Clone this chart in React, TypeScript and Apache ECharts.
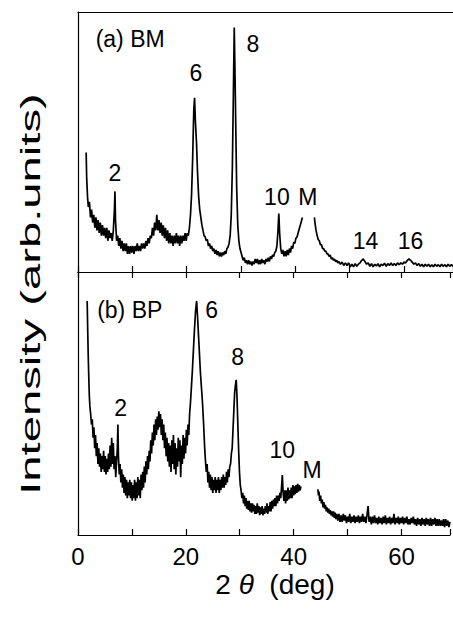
import React, { useEffect, useRef } from "react";
import * as echarts from "echarts";

// (a) BM pattern: [2θ (deg), intensity (arb.)]; '-' marks the blanked M region
const bmPattern: (number | string)[][] = [
  [1.5,46],[1.6,36],[1.75,29],[1.9,25],[2.1,27],[2.3,21],[2.5,24],[2.7,19],[2.9,22],[3.1,17],[3.3,21],[3.5,16],[3.7,20],[3.9,15],[4.1,19],[4.3,14],[4.5,18],[4.7,14],[4.9,17],[5.1,13],[5.3,17],[5.5,12],[5.7,16],[5.9,13],[6.1,15],[6.3,12],[6.5,16],[6.7,24],[6.8,31],[6.9,20],[7.1,12],[7.3,14],[7.5,10],[7.7,13],[7.9,9],[8.1,12],[8.3,8],[8.5,11],[8.7,8],[8.9,11],[9.1,7],[9.3,10],[9.5,7],[9.7,10],[9.9,7.5],[10.1,10],[10.3,7],[10.5,10],[10.7,8],[10.9,11],[11.1,8],[11.3,10],[11.5,8],[11.7,11],[11.9,9],[12.1,11],[12.3,9],[12.5,12],[12.7,10],[12.9,13],[13.1,11],[13.3,14],[13.5,13],[13.7,17],[13.9,14],[14.1,19],[14.3,16],[14.5,22],[14.7,16],[14.9,20],[15.1,15],[15.3,19],[15.5,14],[15.7,18],[15.9,13],[16.1,17],[16.3,12],[16.5,16],[16.7,11],[16.9,15],[17.1,11],[17.3,14],[17.5,10],[17.7,14],[17.9,11],[18.1,15],[18.3,11],[18.5,14],[18.7,10],[18.9,14],[19.1,11],[19.3,14],[19.5,12],[19.7,15],[19.9,12],[20.1,15],[20.3,14],[20.5,17],[20.7,22],[20.9,30],[21.1,44],[21.3,62],[21.45,67],[21.6,58],[21.8,50],[22.0,38],[22.2,29],[22.4,24],[22.6,21],[22.8,18],[23.0,16],[23.2,14],[23.4,13.5],[23.6,12],[23.8,12.5],[24.0,10],[24.2,11],[24.4,9],[24.6,10],[24.8,8],[25.0,9],[25.2,7],[25.4,8.5],[25.6,6.5],[25.8,8],[26.0,6],[26.2,7.5],[26.4,6],[26.6,7.5],[26.8,6.5],[27.0,8],[27.2,7],[27.4,9],[27.6,9.5],[27.8,11],[28.0,14],[28.2,22],[28.4,40],[28.6,70],[28.75,94],[28.9,75],[29.05,53],[29.2,32],[29.4,18],[29.6,12],[29.8,9],[30.0,7.5],[30.2,6],[30.4,4.5],[30.6,5.5],[30.8,3.5],[31.0,4.5],[31.2,3],[31.4,4.5],[31.6,3],[31.8,4],[32.0,2.5],[32.2,4],[32.4,3],[32.6,5],[32.8,3.5],[33.0,5],[33.2,3],[33.4,4.5],[33.6,3],[33.8,5],[34.0,3.5],[34.2,4.5],[34.4,3],[34.6,5],[34.8,4],[35.0,5.5],[35.2,4],[35.4,6],[35.6,5],[35.8,6.5],[36.0,6],[36.2,7.5],[36.4,8],[36.6,10],[36.8,16],[36.95,22.5],[37.1,15],[37.3,9],[37.5,7],[37.7,8.5],[37.9,6],[38.1,8],[38.3,6],[38.5,8.5],[38.7,6.5],[38.9,9],[39.1,7.5],[39.3,10],[39.5,9],[39.7,11.5],[39.9,11],[40.1,13],[40.3,13.5],[40.5,15],[40.7,16.5],[40.9,18],[41.1,19.5],[41.3,21],[41.4,"-"],[43.5,21],[43.6,19],[43.8,16],[44.0,14],[44.2,12.5],[44.4,12],[44.6,10.5],[44.8,10.5],[45.0,9],[45.2,9],[45.4,8],[45.6,8],[45.8,7],[46.0,7],[46.2,6],[46.4,6.5],[46.6,5],[46.8,5.5],[47.0,4.5],[47.2,5],[47.4,4],[47.6,4.5],[47.8,3.5],[48.0,4],[48.3,3],[48.6,3.8],[48.9,2.5],[49.2,3.5],[49.5,2.5],[49.8,3.5],[50.1,2],[50.4,3],[50.7,2],[51.0,3.2],[51.3,2.2],[51.6,3],[51.9,3.5],[52.2,4.5],[52.5,5],[52.8,4],[53.1,3],[53.4,3.5],[53.7,2.2],[54.0,3.2],[54.3,2],[54.6,3],[54.9,2.3],[55.2,3.2],[55.5,2],[55.8,3],[56.1,2.5],[56.4,3.4],[56.7,2.2],[57.0,3.2],[57.3,2.5],[57.6,3.5],[57.9,2.5],[58.2,3.3],[58.5,2.5],[58.8,3.5],[59.1,2.8],[59.4,3.5],[59.7,3],[60.0,3.8],[60.3,3.5],[60.6,4.5],[60.9,5],[61.2,4.5],[61.5,3.8],[61.8,3],[62.1,3.5],[62.4,2.5],[62.7,3.2],[63.0,2.2],[63.3,3],[63.6,2],[63.9,3],[64.2,2.2],[64.5,3],[64.8,2],[65.1,2.8],[65.4,2],[65.7,3],[66.0,2.2],[66.3,2.8],[66.6,2],[66.9,3],[67.2,2.2],[67.5,2.8],[67.8,2],[68.1,3],[68.4,2.2],[68.7,2.8],[69.0,2.2]
];

// (b) BP pattern
const bpPattern: (number | string)[][] = [
  [1.7,89],[1.8,78],[1.9,68],[2.0,60],[2.1,53],[2.2,49],[2.35,46],[2.5,42],[2.65,44],[2.8,37],[2.95,41],[3.1,33],[3.25,38],[3.4,30],[3.55,35],[3.7,27],[3.85,33],[4.0,26],[4.15,31],[4.3,24],[4.45,30],[4.6,25],[4.75,32],[4.9,24],[5.05,30],[5.2,23],[5.35,29],[5.5,24],[5.65,31],[5.8,25],[5.95,34],[6.1,26],[6.25,37],[6.4,27],[6.55,35],[6.7,25],[6.85,30],[7.0,22],[7.15,28],[7.3,33],[7.4,42],[7.5,30],[7.65,23],[7.8,27],[7.95,20],[8.1,25],[8.25,18],[8.4,23],[8.55,16],[8.7,22],[8.85,15],[9.0,21],[9.15,14],[9.3,20],[9.45,15],[9.6,21],[9.75,14],[9.9,20],[10.05,13],[10.2,19],[10.35,14],[10.5,21],[10.65,13],[10.8,20],[10.95,14],[11.1,22],[11.25,15],[11.4,21],[11.55,14],[11.7,23],[11.85,17],[12.0,24],[12.15,18],[12.3,26],[12.45,20],[12.6,28],[12.75,23],[12.9,30],[13.05,25],[13.2,32],[13.35,28],[13.5,36],[13.65,31],[13.8,39],[13.95,34],[14.1,42],[14.25,36],[14.4,44],[14.55,38],[14.7,45],[14.85,40],[15.0,47],[15.15,41],[15.3,46],[15.45,38],[15.6,44],[15.75,36],[15.9,42],[16.05,33],[16.2,39],[16.35,30],[16.5,37],[16.65,28],[16.8,35],[16.95,26],[17.1,34],[17.25,24],[17.4,36],[17.55,27],[17.7,38],[17.85,25],[18.0,35],[18.15,23],[18.3,33],[18.45,26],[18.6,37],[18.75,28],[18.9,36],[19.05,22],[19.2,34],[19.35,27],[19.5,38],[19.65,29],[19.8,37],[19.95,31],[20.1,40],[20.25,34],[20.4,42],[20.55,38],[20.7,46],[20.85,50],[21.0,55],[21.2,62],[21.4,70],[21.6,78],[21.8,85],[22.0,89],[22.15,84],[22.3,78],[22.5,70],[22.7,62],[22.9,56],[23.1,50],[23.3,42],[23.5,33],[23.65,28],[23.8,24],[23.95,27],[24.1,20],[24.25,24],[24.4,18],[24.55,23],[24.7,17],[24.85,22],[25.0,16],[25.15,21],[25.3,17],[25.45,22],[25.6,16],[25.75,21],[25.9,17],[26.05,22],[26.2,16],[26.35,21],[26.5,17],[26.65,22],[26.8,18],[26.95,23],[27.1,18],[27.25,22],[27.4,19],[27.55,24],[27.7,20],[27.85,25],[28.0,22],[28.15,26],[28.3,27],[28.45,31],[28.6,33],[28.75,40],[28.9,47],[29.05,54],[29.2,57],[29.35,59],[29.5,52],[29.65,42],[29.8,32],[29.95,24],[30.1,19],[30.25,17],[30.4,14],[30.55,16],[30.7,12],[30.85,15],[31.0,11],[31.15,14],[31.3,10],[31.45,13],[31.6,9.5],[31.75,13],[31.9,9],[32.05,12],[32.2,8.5],[32.35,12],[32.5,9],[32.65,11.5],[32.8,8],[32.95,11],[33.1,8],[33.25,12],[33.4,8.5],[33.55,11],[33.7,7.5],[33.85,10.5],[34.0,8],[34.15,11],[34.3,7.5],[34.45,10],[34.6,8],[34.75,11],[34.9,8.5],[35.05,12],[35.2,8],[35.35,11],[35.5,9],[35.65,12.5],[35.8,9],[35.95,13],[36.1,10],[36.25,13.5],[36.4,11],[36.55,14],[36.7,11],[36.85,15],[37.0,12],[37.15,15],[37.3,13],[37.45,16],[37.6,14],[37.75,18],[37.9,22.8],[38.05,16],[38.2,13],[38.35,17],[38.5,12],[38.65,17],[38.8,13],[38.95,18],[39.1,13.5],[39.25,17],[39.4,14],[39.55,18],[39.7,14],[39.85,19],[40.0,15],[40.15,18.5],[40.3,15.5],[40.45,19],[40.6,16],[40.75,19.5],[40.9,16.5],[41.05,19],[41.2,17],[41.35,18.5],[41.45,"-"],[44.5,17.4],[44.6,15],[44.7,16.5],[44.85,13],[45.0,15],[45.15,12],[45.3,13.5],[45.45,10.5],[45.6,12.5],[45.75,10],[45.9,11.5],[46.05,9],[46.2,10.5],[46.35,8.5],[46.5,10],[46.65,8],[46.8,9.5],[46.95,7.5],[47.1,9],[47.25,7],[47.4,9],[47.55,6.5],[47.7,8.5],[47.85,6],[48.0,8],[48.2,5.5],[48.4,8],[48.6,5],[48.8,7.5],[49.0,5],[49.2,8],[49.4,5.5],[49.6,7.5],[49.8,4.5],[50.0,7],[50.2,5],[50.4,8],[50.6,4.5],[50.8,7],[51.0,5],[51.2,7.5],[51.4,4.5],[51.6,7],[51.8,5],[52.0,7.5],[52.2,4.5],[52.4,7],[52.6,5],[52.8,8],[53.0,5],[53.2,7],[53.4,4.5],[53.6,7.5],[53.8,11],[54.0,5],[54.2,7],[54.4,4],[54.6,7],[54.8,4.5],[55.0,7.5],[55.2,4.5],[55.4,6.5],[55.6,4],[55.8,7],[56.0,4.5],[56.2,6.5],[56.4,4],[56.6,7],[56.8,4.5],[57.0,7.5],[57.2,4],[57.4,6.5],[57.6,4.5],[57.8,7],[58.0,4],[58.2,6.5],[58.4,4.5],[58.6,8],[58.8,4],[59.0,6.5],[59.2,4.5],[59.4,7],[59.6,4],[59.8,6.5],[60.0,4.5],[60.2,7],[60.4,4],[60.6,6.5],[60.8,4.5],[61.0,7],[61.2,4],[61.4,6],[61.6,4],[61.8,6.5],[62.0,4.5],[62.2,7],[62.4,4],[62.6,6],[62.8,3.5],[63.0,6.5],[63.2,4],[63.4,6],[63.6,3.5],[63.8,6.5],[64.0,4],[64.2,6],[64.4,3.5],[64.6,6.5],[64.8,4],[65.0,6],[65.2,3.5],[65.4,6.5],[65.6,3.5],[65.8,6],[66.0,4],[66.2,6.5],[66.4,3.5],[66.6,6],[66.8,3.5],[67.0,6],[67.2,3.5],[67.4,5.5],[67.6,3.5],[67.8,6],[68.0,3],[68.2,6],[68.4,3.5],[68.6,5.5],[68.8,3],[69.0,5]
];

// annotation texts and their anchor points [2θ, intensity]
const bmLabelTexts = ["(a) BM", "2", "6", "8", "10", "M", "14", "16"];
const bmLabelAt = [[9.6, 89.5], [6.8, 38], [21.7, 76.5], [32.2, 87.7], [36.6, 28.8], [42.3, 28.8], [52.9, 12], [61.2, 12]];
const bpLabelTexts = ["(b) BP", "2", "6", "8", "10", "M"];
const bpLabelAt = [[9.6, 85.5], [7.9, 48.3], [24.8, 85.5], [29.6, 67.7], [37.9, 32.3], [43.4, 24.7]];

const xTickLabels = [0, 20, 40, 60];

const FONT = "'Liberation Sans', Arial, Helvetica, sans-serif";

export default function App() {
  const ref = useRef<HTMLDivElement>(null);
  useEffect(() => {
    if (!ref.current) return;
    const chart = echarts.init(ref.current, null, { renderer: "svg" });
    const axisLine = { show: true, lineStyle: { color: "#000", width: 1.2 } };
    const baseX = {
      type: "value",
      min: 0,
      max: 69,
      interval: 10,
      splitLine: { show: false },
      axisLine,
      axisTick: { show: true, inside: true, length: 6, lineStyle: { color: "#000", width: 1.2 } },
      axisLabel: { show: false },
    };
    const baseY = {
      type: "value",
      min: 0,
      max: 100,
      splitLine: { show: false },
      axisLine,
      axisTick: { show: false },
      axisLabel: { show: false },
    };
    const labelSeries = (texts: string[], at: number[][], xi: number, yi: number) => ({
      type: "scatter",
      xAxisIndex: xi,
      yAxisIndex: yi,
      symbolSize: 0,
      silent: true,
      z: 5,
      itemStyle: { color: "#000", opacity: 1 },
      data: texts.map((t, i) => ({ name: t, value: at[i] })),
      label: {
        show: true,
        position: "inside",
        formatter: "{b}",
        color: "#000",
        opacity: 1,
        textBorderWidth: 0,
        textBorderColor: "transparent",
        fontSize: 23,
        fontFamily: FONT,
      },
    });
    chart.setOption({
      animation: false,
      backgroundColor: "#fff",
      grid: [
        { left: 78, right: 0, top: 12, height: 260 },
        { left: 78, right: 0, top: 272, height: 263 },
      ],
      xAxis: [
        { ...baseX, gridIndex: 0, position: "bottom" },
        { ...baseX, gridIndex: 0, position: "top", axisTick: { show: false } },
        {
          ...baseX,
          gridIndex: 1,
          position: "bottom",
          axisLabel: {
            show: true,
            color: "#000",
            fontSize: 24,
            fontFamily: FONT,
            margin: 9,
            formatter: (v: number) => (xTickLabels.includes(v) ? String(v) : ""),
          },
        },
        { ...baseX, gridIndex: 1, position: "top" },
      ],
      yAxis: [
        { ...baseY, gridIndex: 0 },
        { ...baseY, gridIndex: 1 },
      ],
      series: [
        {
          type: "line",
          xAxisIndex: 0,
          yAxisIndex: 0,
          data: bmPattern,
          showSymbol: false,
          symbol: "none",
          connectNulls: false,
          lineStyle: { color: "#000", width: 1.7 },
        },
        {
          type: "line",
          xAxisIndex: 2,
          yAxisIndex: 1,
          data: bpPattern,
          showSymbol: false,
          symbol: "none",
          connectNulls: false,
          lineStyle: { color: "#000", width: 1.7 },
        },
        labelSeries(bmLabelTexts, bmLabelAt, 0, 0),
        labelSeries(bpLabelTexts, bpLabelAt, 2, 1),
      ],
      graphic: [
        {
          type: "text",
          x: 275,
          y: 584,
          style: {
            text: "2 {i|θ}  (deg)",
            fill: "#000",
            fontSize: 28,
            fontFamily: FONT,
            align: "center",
            verticalAlign: "middle",
            rich: { i: { fontStyle: "italic", fontSize: 28, fontFamily: FONT, fill: "#000" } },
          },
        },
        {
          type: "text",
          x: 31,
          y: 294,
          rotation: Math.PI / 2,
          scaleX: 1.75,
          style: {
            text: "Intensity (arb.units)",
            fill: "#000",
            fontSize: 27,
            fontFamily: FONT,
            align: "center",
            verticalAlign: "middle",
          },
        },
      ],
    });
    return () => chart.dispose();
  }, []);
  return (
    <div
      ref={ref}
      style={{ position: "fixed", left: 0, top: 0, width: 453, height: 617, background: "#fff" }}
    />
  );
}
